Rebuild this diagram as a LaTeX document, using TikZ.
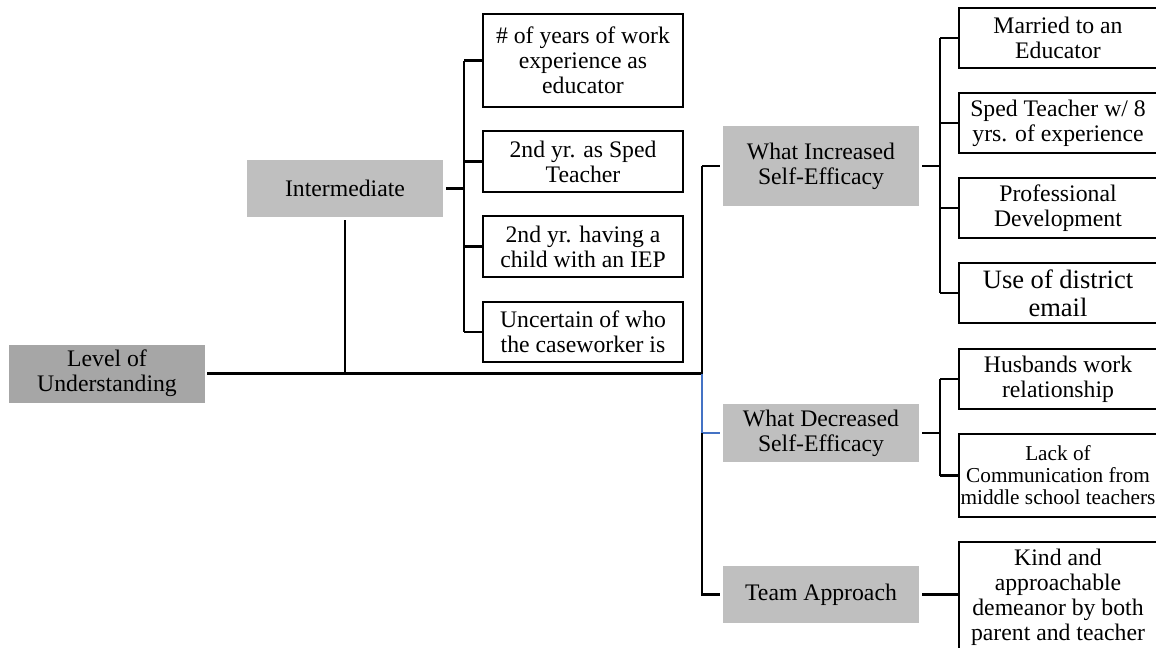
\documentclass[tikz,border=0pt]{standalone}
\usepackage{fontspec}
\setmainfont{Liberation Serif}
\definecolor{gdark}{HTML}{A6A6A6}
\definecolor{glight}{HTML}{BFBFBF}
\definecolor{lnblue}{HTML}{4472C4}
\tikzset{
  gbox/.style={fill=glight, draw=none, inner sep=0pt, align=center, font=\fontsize{13.5}{14.2}\selectfont},
  wbox/.style={fill=white, draw=black, line width=1pt, inner sep=0pt, align=center, font=\fontsize{13.5}{14.2}\selectfont},
  conn/.style={draw=black, line width=1.2pt},
  bconn/.style={draw=lnblue, line width=0.9pt},
}
\begin{document}
\begin{tikzpicture}[x=0.02cm, y=-0.02cm]
\useasboundingbox (0,0) rectangle (1156,647);
\clip (0,0) rectangle (1156,647);
\fill[white] (0,0) rectangle (1156,647);

% grey nodes
\node[gbox, fill=gdark, minimum width=196*0.02cm, minimum height=58*0.02cm] (lou) at (107,373.5) {Level of\\Understanding};
\node[gbox, minimum width=196*0.02cm, minimum height=57*0.02cm] (inter) at (345,188.5) {Intermediate};
\node[gbox, minimum width=196*0.02cm, minimum height=80*0.02cm] (inc) at (821,166) {What Increased\\Self-Efficacy};
\node[gbox, minimum width=196*0.02cm, minimum height=58*0.02cm] (dec) at (821,433) {What Decreased\\Self-Efficacy};
\node[gbox, minimum width=196*0.02cm, minimum height=57*0.02cm] (team) at (821,594.5) {Team Approach};

% intermediate children
\node[wbox, minimum width=200*0.02cm, minimum height=93*0.02cm] (b1) at (583,60.5) {\# of years of work\\experience as\\educator};
\node[wbox, minimum width=200*0.02cm, minimum height=61*0.02cm] (b2) at (583,161.5) {2nd yr. as Sped\\Teacher};
\node[wbox, minimum width=200*0.02cm, minimum height=61*0.02cm] (b3) at (583,246.5) {2nd yr. having a\\child with an IEP};
\node[wbox, minimum width=200*0.02cm, minimum height=60*0.02cm] (b4) at (583,332) {Uncertain of who\\the caseworker is};

% increased children
\node[wbox, minimum width=198*0.02cm, minimum height=60*0.02cm] (r1) at (1058,38) {Married to an\\Educator};
\node[wbox, minimum width=198*0.02cm, minimum height=60*0.02cm] (r2) at (1058,123) {Sped Teacher w/ 8\\yrs. of experience};
\node[wbox, minimum width=198*0.02cm, minimum height=60*0.02cm] (r3) at (1058,208) {Professional\\Development};
\node[wbox, minimum width=198*0.02cm, minimum height=60*0.02cm, font=\fontsize{15.1}{15.9}\selectfont] (r4) at (1058,293) {Use of district\\email};

% decreased children
\node[wbox, minimum width=198*0.02cm, minimum height=60*0.02cm] (d1) at (1058,379) {Husbands work\\relationship};
\node[wbox, minimum width=198*0.02cm, minimum height=83*0.02cm, font=\fontsize{12.1}{12.5}\selectfont] (d2) at (1058,475.5) {Lack of\\Communication from\\middle school teachers};

% team child
\node[wbox, minimum width=198*0.02cm, minimum height=110*0.02cm] (t1) at (1058,597) {Kind and\\approachable\\demeanor by both\\parent and teacher};

% hub coordinates
\coordinate (ja) at (702,0);
\coordinate (ia) at (464,0);
\coordinate (ka) at (940,0);

% main line
\draw[conn] ([xshift=2*0.02cm]lou.east) -- (ja |- lou.east);
\draw[conn] ([yshift=-3*0.02cm]inter.south) -- (inter.south |- lou.east);

% intermediate tree
\draw[conn] ([xshift=3*0.02cm]inter.east) -- (ia |- inter.east);
\draw[conn] (ia |- b1.west) -- (ia |- b4.west);
\foreach \n in {b1,b2,b3,b4} \draw[conn] (ia |- \n.west) -- (\n.west);

% right spine
\draw[conn] (inc.west -| ja) -- (ja |- lou.east);
\draw[conn] ([xshift=-3*0.02cm]inc.west) -- (inc.west -| ja);
\draw[bconn] (ja |- lou.east) -- (ja |- dec.west) -- ([xshift=-3*0.02cm]dec.west);
\draw[conn] (ja |- dec.west) -- (ja |- team.west) -- ([xshift=-3*0.02cm]team.west);

% increased tree
\draw[conn] ([xshift=3*0.02cm]inc.east) -- (ka |- inc.east);
\draw[conn] (ka |- r1.west) -- (ka |- r4.west);
\foreach \n in {r1,r2,r3,r4} \draw[conn] (ka |- \n.west) -- (\n.west);

% decreased tree
\draw[conn] ([xshift=3*0.02cm]dec.east) -- (ka |- dec.east);
\draw[conn] (ka |- d1.west) -- (ka |- d2.west);
\foreach \n in {d1,d2} \draw[conn] (ka |- \n.west) -- (\n.west);

% team
\draw[conn] ([xshift=3*0.02cm]team.east) -- (team.east -| t1.west);
\end{tikzpicture}
\end{document}
